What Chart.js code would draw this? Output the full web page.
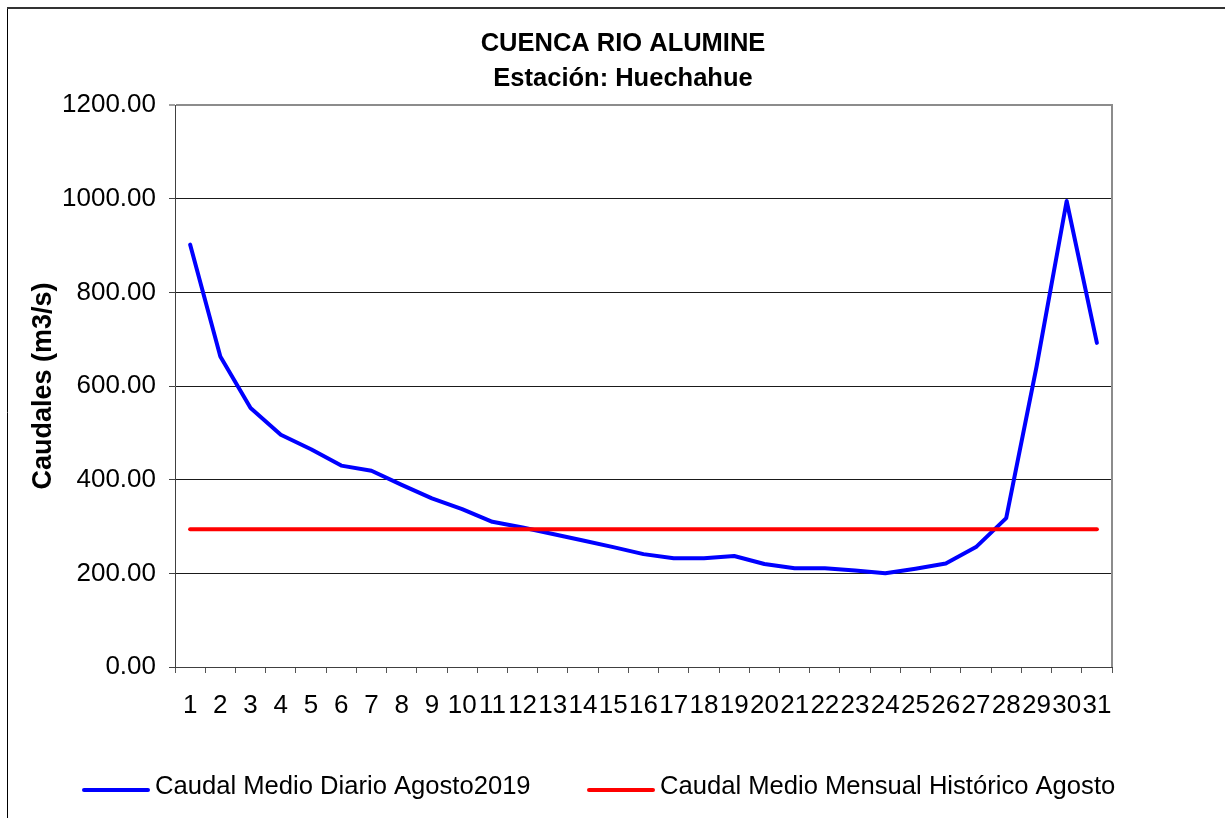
<!DOCTYPE html>
<html>
<head>
<meta charset="utf-8">
<title>Cuenca Rio Alumine - Huechahue</title>
<script src="https://cdn.jsdelivr.net/npm/chart.js@4.4.1/dist/chart.umd.min.js"></script>
<style>
  body { margin: 0; background: #fff; }
  #chartCaudales { display: block; }
</style>
</head>
<body>
<canvas id="chartCaudales" width="1225" height="818"></canvas>
<script>
const dias = ['1','2','3','4','5','6','7','8','9','10','11','12','13','14','15','16','17','18','19','20','21','22','23','24','25','26','27','28','29','30','31'];

const caudalDiario = [902, 663, 553, 496, 465, 430, 419, 389, 360, 337, 310, 298, 284, 270, 256,
                      241, 232, 232, 237, 220, 211, 211, 206, 200, 210, 221, 256, 318, 640, 995, 692];

const caudalHistorico = [294, 294, 294, 294, 294, 294, 294, 294, 294, 294, 294, 294, 294, 294, 294,
                         294, 294, 294, 294, 294, 294, 294, 294, 294, 294, 294, 294, 294, 294, 294, 294];

const yTicks = [0, 200, 400, 600, 800, 1000, 1200];

const titulo = ['CUENCA RIO ALUMINE', 'Estación: Huechahue'];
const tituloEje = 'Caudales (m3/s)';
const labelDiario = 'Caudal Medio Diario Agosto2019';
const labelHistorico = 'Caudal Medio Mensual Histórico Agosto';

const fuente = "'Liberation Sans', Arial, sans-serif";

// frame around the whole picture + grey right border of the plot
const marcoPlugin = {
  id: 'marco',
  beforeDraw(chart) {
    const ctx = chart.ctx;
    ctx.save();
    ctx.fillStyle = '#fff';
    ctx.fillRect(0, 0, chart.width, chart.height);
    ctx.strokeStyle = '#000';
    ctx.lineWidth = 1;
    ctx.beginPath();
    ctx.moveTo(7.5, 7);
    ctx.lineTo(7.5, chart.height);
    ctx.stroke();
    ctx.strokeStyle = '#333';
    ctx.lineWidth = 2;
    ctx.beginPath();
    ctx.moveTo(7, 8);
    ctx.lineTo(chart.width, 8);
    ctx.stroke();
    ctx.restore();
  },
  beforeDatasetsDraw(chart) {
    const a = chart.chartArea;
    const ctx = chart.ctx;
    ctx.save();
    ctx.strokeStyle = '#8c8c8c';
    ctx.lineWidth = 2;
    ctx.beginPath();
    ctx.moveTo(a.right, a.top - 1);
    ctx.lineTo(a.right, a.bottom);
    ctx.stroke();
    ctx.restore();
  }
};

// legend drawn by hand so the line sample sits close to its text
const leyendaX = [82, 587];
const leyendaPlugin = {
  id: 'leyenda',
  afterDraw(chart) {
    const ctx = chart.ctx;
    ctx.save();
    ctx.font = '25.6px ' + fuente;
    ctx.textBaseline = 'middle';
    ctx.textAlign = 'left';
    chart.data.datasets.forEach((ds, i) => {
      const x = leyendaX[i];
      ctx.strokeStyle = ds.borderColor;
      ctx.lineWidth = 4;
      ctx.lineCap = 'round';
      ctx.beginPath();
      ctx.moveTo(x + 2, 790);
      ctx.lineTo(x + 66, 790);
      ctx.stroke();
      ctx.fillStyle = '#000';
      ctx.fillText(ds.label, x + 73, 787);
    });
    ctx.restore();
  }
};

chartItCaudales();

function chartItCaudales() {
  const ctx = document.getElementById('chartCaudales').getContext('2d');

  const myChart = new Chart(ctx, {
    type: 'line',
    data: {
      labels: dias,
      datasets: [
        {
          label: labelDiario,
          data: caudalDiario,
          borderColor: '#0000ff',
          borderWidth: 4,
          pointRadius: 0,
          tension: 0,
          fill: false,
          borderCapStyle: 'round',
          borderJoinStyle: 'round',
          order: 1
        },
        {
          label: labelHistorico,
          data: caudalHistorico,
          borderColor: '#ff0000',
          borderWidth: 4,
          pointRadius: 0,
          tension: 0,
          fill: false,
          borderCapStyle: 'round',
          order: 0
        }
      ]
    },
    options: {
      responsive: false,
      animation: false,
      layout: {
        padding: { left: 27, right: 6, top: 8, bottom: 0 }
      },
      plugins: {
        legend: { display: false },
        tooltip: { enabled: false },
        title: {
          display: true,
          text: titulo,
          color: '#000',
          font: { family: fuente, size: 25.5, weight: 'bold', lineHeight: 35 / 25.5 },
          padding: { top: 18.5, bottom: 8.5 }
        }
      },
      scales: {
        x: {
          type: 'category',
          offset: true,
          grid: {
            offset: true,
            drawOnChartArea: false,
            drawTicks: true,
            tickLength: 6,
            color: '#555'
          },
          border: { color: '#404040', width: 1 },
          ticks: {
            color: '#000',
            font: { family: fuente, size: 26 },
            padding: 17,
            maxRotation: 0,
            autoSkip: false
          },
          afterFit(scale) { scale.height = 151; }
        },
        y: {
          min: 0,
          max: 1200,
          afterBuildTicks(scale) { scale.ticks = yTicks.map(v => ({ value: v })); },
          grid: {
            color: c => (c.tick && c.tick.value === 1200) ? '#8c8c8c' : '#1a1a1a',
            lineWidth: c => (c.tick && c.tick.value === 1200) ? 2 : 1,
            tickColor: '#404040',
            tickWidth: 1,
            tickLength: 6
          },
          border: { color: '#404040', width: 1 },
          ticks: {
            color: '#000',
            font: { family: fuente, size: 26 },
            padding: 13,
            callback: v => Number(v).toFixed(2)
          },
          title: {
            display: true,
            text: tituloEje,
            color: '#000',
            font: { family: fuente, size: 27, weight: 'bold', lineHeight: 1.2 },
            padding: { top: 0, bottom: 0 }
          },
          afterFit(scale) { scale.width = 148; }
        },
        yDer: {
          position: 'right',
          display: true,
          grid: { display: false },
          border: { display: false },
          ticks: { display: false },
          afterFit(scale) { scale.width = 107; }
        }
      }
    },
    plugins: [marcoPlugin, leyendaPlugin]
  });
}
</script>
</body>
</html>
